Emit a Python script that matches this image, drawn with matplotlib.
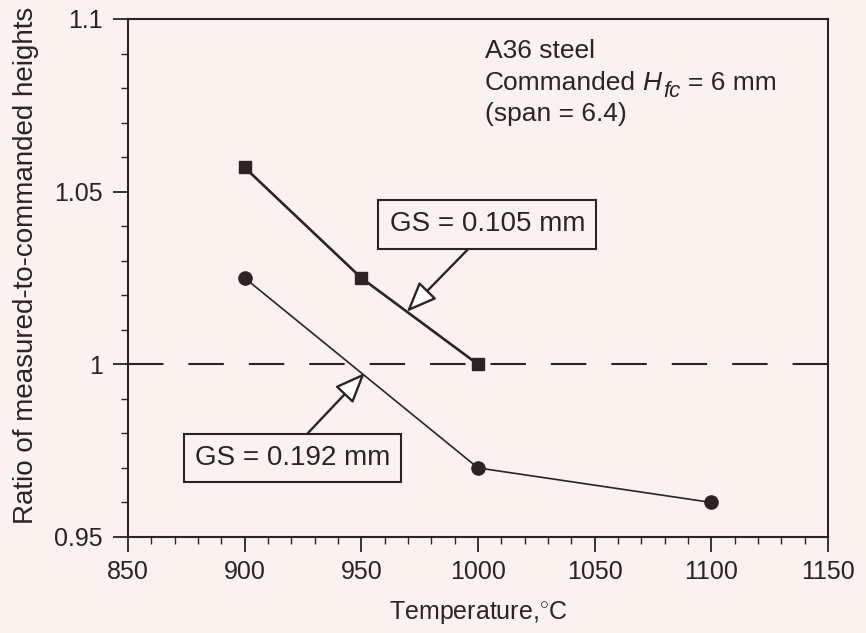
import matplotlib
matplotlib.use("Agg")
import matplotlib.pyplot as plt
from matplotlib.ticker import MultipleLocator

plt.rcParams['font.family'] = ['Liberation Sans', 'DejaVu Sans']
plt.rcParams['mathtext.fontset'] = 'custom'
plt.rcParams['mathtext.rm'] = 'Liberation Sans'
plt.rcParams['mathtext.it'] = 'Liberation Sans:italic'

# ratio of measured to commanded heights, two grit sizes
temp_105 = [900, 950, 1000]
ratio_105 = [1.057, 1.025, 1.0]
temp_192 = [900, 1000, 1100]
ratio_192 = [1.025, 0.970, 0.960]

label_105 = 'GS = 0.105 mm'
label_192 = 'GS = 0.192 mm'
note_top = 'A36 steel'
note_bottom = '(span = 6.4)'

bg = '#f9f2ee'
ink = '#2e2222'

fig = plt.figure(figsize=(8.66, 6.33), dpi=100, facecolor=bg)
ax = fig.add_axes([0.1478, 0.1517, 0.8083, 0.8183], facecolor=bg)

ax.axhline(1.0, color=ink, lw=1.5, ls=(0, (17, 12)), zorder=1)
ax.plot(temp_105, ratio_105, color=ink, lw=1.9, marker='s', ms=9, zorder=3)
ax.plot(temp_192, ratio_192, color=ink, lw=1.2, marker='o', ms=9.5, zorder=3)

ax.set_xlim(850, 1150)
ax.set_ylim(0.95, 1.1)
ax.xaxis.set_major_locator(MultipleLocator(50))
ax.xaxis.set_minor_locator(MultipleLocator(10))
ax.yaxis.set_minor_locator(MultipleLocator(0.01))
ax.set_yticks([0.95, 1.0, 1.05, 1.1])
ax.set_yticklabels(['0.95', '1', '1.05', '1.1'])

for s in ax.spines.values():
    s.set_color(ink)
    s.set_linewidth(1.5)
ax.tick_params(which='both', direction='out', colors=ink, labelsize=18,
               top=False, right=False)
ax.tick_params(which='major', length=10.5, width=1.3, pad=6)
ax.tick_params(axis='y', which='major', pad=7.5)
ax.tick_params(which='minor', length=5, width=1.0)

ax.set_xlabel('Temperature,$^{\\circ}$C', fontsize=18, color=ink, labelpad=11)
ax.set_ylabel('Ratio of measured-to-commanded heights', fontsize=20,
              color=ink)
ax.yaxis.set_label_coords(-0.127, 0.525)

box = dict(boxstyle='square,pad=0.4', fc=bg, ec=ink, lw=1.5)
arrow = dict(arrowstyle='-|>,head_length=1.1,head_width=0.45',
             mutation_scale=17, fc='white', ec=ink, lw=1.7,
             shrinkA=0, shrinkB=0)

ax.annotate(label_105, xy=(969.5, 1.0152), xytext=(1004, 1.0405),
            ha='center', va='center', fontsize=20, color=ink, bbox=box,
            arrowprops=dict(arrow, relpos=(0.46, 0.0)), zorder=4)
ax.annotate(label_192, xy=(951.5, 0.9975), xytext=(920.5, 0.9728),
            ha='center', va='center', fontsize=20, color=ink, bbox=box,
            arrowprops=dict(arrow, relpos=(0.52, 1.0)), zorder=4)

# note block, top right; the middle line is set piece by piece so the
# italic subscript keeps a near full size
nx = 1003
ax.text(nx, 1.0888, note_top, fontsize=19, color=ink, va='baseline')
ax.text(nx, 1.0704, note_bottom, fontsize=19, color=ink, va='baseline')
line2 = [('Commanded', 0, 0, 19, 'normal'),
         ('H', 113.5, 0, 19, 'italic'),
         ('fc', 128.5, -5, 16, 'italic'),
         ('= 6 mm', 146, 0, 19, 'normal')]
for txt, dx, dy, size, style in line2:
    ax.annotate(txt, xy=(nx, 1.0793), xytext=(dx, dy),
                textcoords='offset points', fontsize=size, style=style,
                color=ink, va='baseline')

fig.savefig('out.png', dpi=100, facecolor=bg)
